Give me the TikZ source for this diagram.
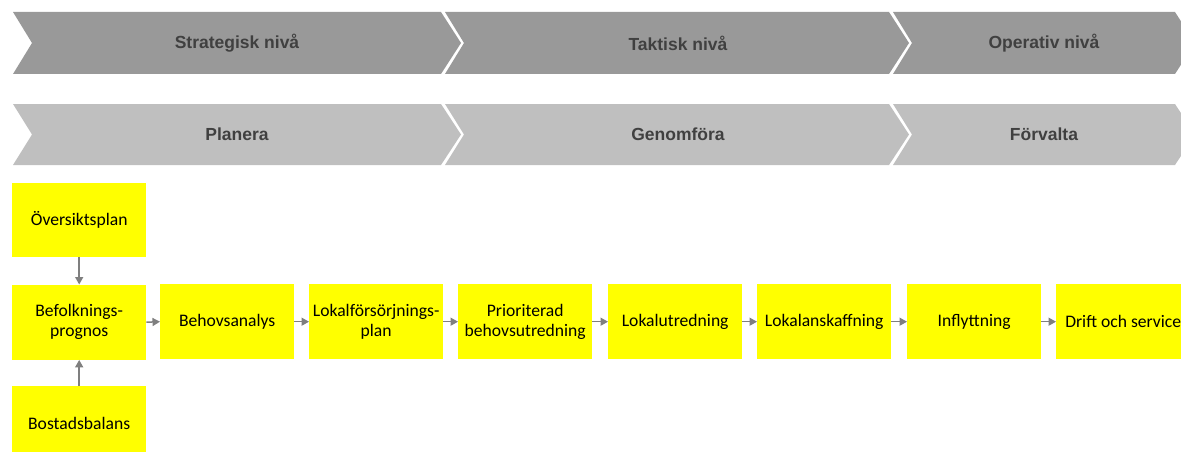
\documentclass[tikz,border=0pt]{standalone}
\usepackage{fontspec}
\setmainfont{Carlito}
\newfontfamily\arialfont{Liberation Sans}
\usetikzlibrary{arrows.meta}
\definecolor{chevdark}{HTML}{999999}
\definecolor{chevlight}{HTML}{BFBFBF}
\definecolor{chevtext}{HTML}{404040}
\definecolor{boxyellow}{HTML}{FFFF00}
\definecolor{arrowgray}{HTML}{7F7F7F}
% chevrons: L, R, top, bottom, colour
\newcommand{\mychev}[5]{%
  \fill[#5] (#1,#3) -- (#2,#3) -- ({#2+20},{(#3+#4)/2}) -- (#2,#4) -- (#1,#4) -- ({#1+19},{(#3+#4)/2}) -- cycle;}
\begin{document}
\begin{tikzpicture}[x=1pt,y=-1pt,
  stepbox/.style={fill=boxyellow, draw=none, minimum width=134pt, minimum height=75pt,
    inner sep=0pt, align=center, font=\fontsize{17.6}{20}\selectfont, anchor=north west, text=black},
  chevlabel/.style={font=\arialfont\bfseries\fontsize{17.5}{20}\selectfont, text=chevtext},
  flow/.style={draw=arrowgray, line width=1.5pt, -{Triangle[length=7.5pt,width=8pt]}}]
\path[use as bounding box] (0,0) rectangle (1181,452);
\clip (0,0) rectangle (1181,452);
\mychev{13}{441}{12}{74}{chevdark}
\mychev{445}{889}{12}{74}{chevdark}
\mychev{893}{1175}{12}{74}{chevdark}
\mychev{13}{441}{104}{165}{chevlight}
\mychev{445}{889}{104}{165}{chevlight}
\mychev{893}{1175}{104}{165}{chevlight}
\node[chevlabel] (strat) at (237,43) {Strategisk nivå};
\node[chevlabel] (takt) at (678,43) {Taktisk nivå};
\node[chevlabel] (oper) at (1044,43) {Operativ nivå};
\node[chevlabel] (plan) at (237,134.5) {Planera};
\node[chevlabel] (genom) at (678,134.5) {Genomföra};
\node[chevlabel] (forv) at (1044,134.5) {Förvalta};
% boxes
\node[stepbox, minimum height=74pt] (oversikt) at (12,183) {Översiktsplan};
\node[stepbox] (befolk) at (12,284.5) {Befolknings-\\prognos};
\node[stepbox] (bostad) at (12,386) {Bostadsbalans};
\node[stepbox] (behov) at (160,284) {Behovsanalys};
\node[stepbox] (lokplan) at (309,284) {Lokalförsörjnings-\\plan};
\node[stepbox] (prio) at (458,284) {Prioriterad\\behovsutredning};
\node[stepbox] (lokutr) at (608,284) {Lokalutredning};
\node[stepbox] (lokansk) at (757,284) {Lokalanskaffning};
\node[stepbox] (infl) at (907,284) {Inflyttning};
\node[stepbox] (drift) at (1056,284) {Drift och service};
% arrows
\draw[flow] (oversikt.south) -- (befolk.north);
\draw[flow] (bostad.north) -- (befolk.south);
\draw[flow] (befolk.east) -- (behov.west);
\draw[flow] (behov.east) -- (lokplan.west);
\draw[flow] (lokplan.east) -- (prio.west);
\draw[flow] (prio.east) -- (lokutr.west);
\draw[flow] (lokutr.east) -- (lokansk.west);
\draw[flow] (lokansk.east) -- (infl.west);
\draw[flow] (infl.east) -- (drift.west);
\end{tikzpicture}
\end{document}
